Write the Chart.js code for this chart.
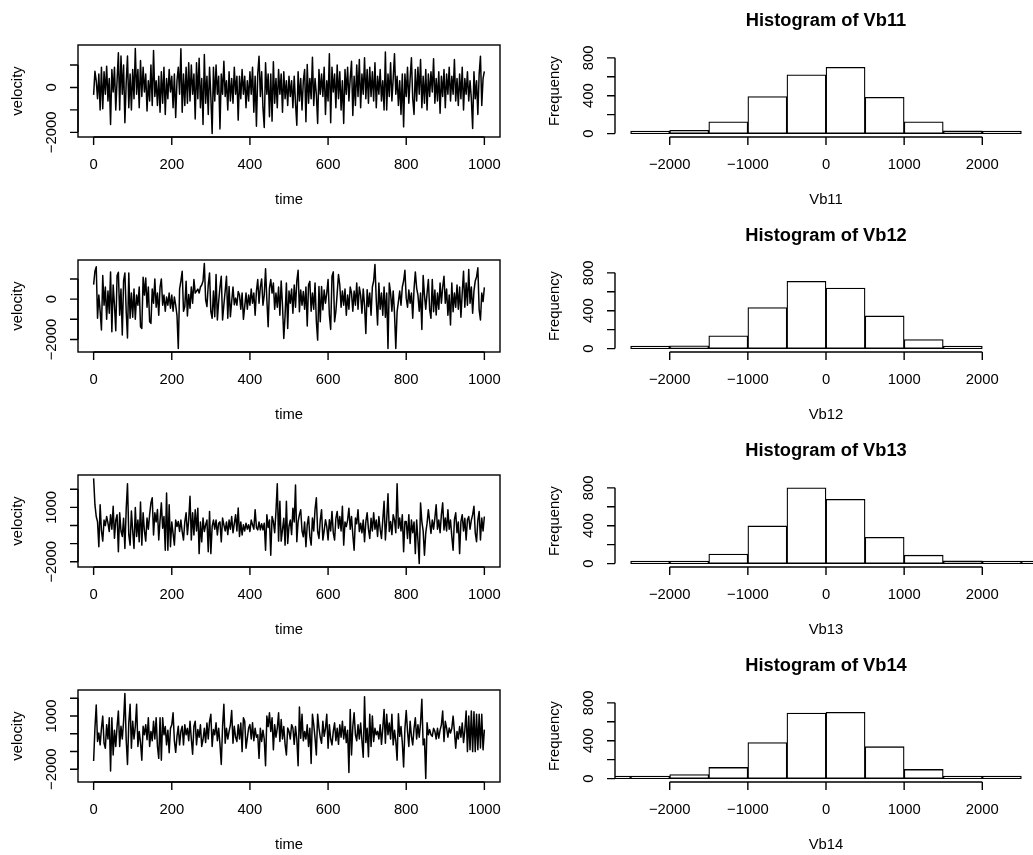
<!DOCTYPE html>
<html>
<head>
<meta charset="utf-8">
<title>Velocity series and histograms</title>
<script src="https://cdn.jsdelivr.net/npm/chart.js@4.4.1/dist/chart.umd.min.js"></script>
<style>
  html, body { margin: 0; padding: 0; background: #fff; }
  #figure { position: relative; width: 1033px; height: 855px; overflow: hidden; }
  #figure canvas { position: absolute; }
</style>
</head>
<body>
<div id="figure"></div>
<script>
// velocity samples, 301 per series, time running 0..1000
const TIME_STEP = 10 / 3;

const VB11 = [
  -330, 720, 300, -500, 600, -1000, 900, -950, 700, -300, 950, -600, 400, -1650, 800, -200, 900, -1000, 300, 1545,
  -1000, 1400, -300, 1000, -1575, 200, 1400, -900, 600, -1000, 800, -500, 1740, -300, 800, -900, 1200, -400, 900, -200,
  600, -1050, 300, -600, 1000, -800, 1650, -400, 300, -800, 500, -1100, 700, -700, 900, -1200, 400, -500, 800, -200,
  500, -900, 600, -1335, 300, 900, -300, 1725, -1100, 600, -800, 900, -700, 1100, -600, 1000, -300, 600, -1400, 1100,
  -500, 1300, -900, 400, -1650, 1470, -700, 500, -1200, 900, -400, -2055, 900, -600, 1000, -300, 500, -1845, 600, -300,
  1170, -400, 300, -1000, 700, -600, 400, -700, 900, -300, 500, -1455, 500, -500, 800, -300, 500, -900, 300, -600,
  700, -300, 900, -1100, 500, -1725, 600, 1395, -400, 700, -900, -1785, 1100, -300, 600, -1300, 600, -1500, 1150, -700,
  400, -900, 800, -300, 600, -1100, 700, -500, 300, -800, 500, -400, 300, -900, 500, -700, -1680, 700, -600, 400,
  -1000, 300, 800, -1530, 1020, -700, 400, -500, 1350, -800, 400, -300, -1600, 800, -300, 600, -400, 900, -1200, 300,
  -600, 1500, -1570, 900, -200, 600, -900, 1000, -500, 700, -1000, 300, -1600, 800, -300, 900, -600, 400, 1170, -1250,
  500, -800, 1000, -400, 1250, -900, 600, -300, 1320, -500, 800, -700, 900, -400, 700, -600, 1100, -900, 500, -300,
  800, -600, 300, -1000, 1575, -1000, 600, -400, 1100, -600, 400, 1500, -300, 500, -800, 300, -1200, 600, -1755, 600,
  -400, 900, -700, 400, 1320, -500, -1200, 800, -600, 900, -300, 1250, -900, 500, -700, 800, -1000, 600, -400, 700,
  -200, 1280, -700, 400, -600, 700, -1150, 500, -400, 800, -900, 600, -300, 900, -600, 500, -300, 1250, -600, 400,
  -800, 600, -500, 900, -1000, 400, -300, 700, -600, 300, -500, -1830, 700, -500, 300, -1200, 600, 1395, -800, 400,
  720
];

const VB12 = [
  720, 1380, 1600, -950, 200, -600, -1530, 1170, -300, 600, -1000, 400, -700, 1350, -1620, 700, -300, -1570, 1170, 1330,
  -800, 500, -1780, 900, 1300, -600, -1920, 1300, -950, 300, -900, 500, -1000, 200, -300, 600, -1370, -1450, 1080, 200,
  1050, -400, 600, -1120, -1200, 500, -200, 1000, -400, 300, -800, 600, 1000, -300, 200, -600, 100, -300, 300, -450,
  200, -600, 100, -300, -800, -2450, 500, 900, 1380, -600, -370, 880, -830, 230, -450, 600, -200, 970, 300, 400,
  500, 300, 600, 700, 900, 1770, -30, -370, 700, 1300, -620, -950, 400, -870, 1220, -1030, -120, 600, 1130, -1030,
  -280, 400, 1130, -950, 630, -870, -120, 600, -280, 50, -300, 380, 200, -500, 300, -1000, -370, 300, -500, 200,
  -300, 500, -200, 300, -800, 400, 970, -200, 600, 1000, -300, 200, 1500, -30, -1370, 550, 970, 300, 800, -500,
  300, -400, 600, -800, 900, -300, -1950, -800, 800, -1450, 400, -200, 500, -700, 700, -400, 900, 1430, -620, 450,
  -300, 380, -500, 600, -1330, 700, 880, -600, 300, -500, 800, -1100, -2030, 630, -1120, 630, -530, 450, -200, 300,
  970, -800, -1500, 1130, 1350, -1120, -600, 300, 1220, 700, -400, 400, -300, 500, -800, 200, -500, 600, 300, -600,
  400, -300, 800, -500, 600, 200, -700, 500, -300, -1700, 470, -370, 300, -800, 600, 900, 1720, -30, -1280, 800,
  -500, 300, -800, 600, -900, 300, -2450, 800, 300, -600, 400, -700, -2450, -620, -120, 400, -300, 600, 900, 1430,
  50, -400, 450, -200, 300, -950, 500, 1350, 550, 200, -600, 300, -1500, 1170, 200, -500, 300, 970, -530, -950,
  970, -620, 450, -780, 300, -500, 800, -200, 600, 1130, -200, 500, -800, 200, -1280, 800, -620, 300, -400, 700,
  -500, 600, -900, 300, 1380, -400, 800, -300, 1470, -200, 600, -700, 400, 900, 1100, 1550, -530, -1030, 300, -120,
  580
];

const VB13 = [
  2600, 1150, 500, 200, -1170, 1150, -300, -860, 300, 0, 500, 130, -330, 600, -200, 1060, -700, 300, 600, -1450,
  700, -300, -600, 400, -1270, 900, 2310, -520, -1080, 800, -300, -1270, 1000, -600, 300, -900, 1300, -1080, 700, -300,
  -860, 410, -200, 600, 1250, 1530, -520, 700, 200, 880, -800, 300, 1250, -150, 500, -1360, 1800, -1360, 1150, -1170,
  200, -430, -1080, 300, -50, 220, -330, 300, -330, -800, 200, 700, -500, 300, 1620, -800, 700, -520, 875, -300,
  960, -1550, 200, -900, 410, -330, 40, 300, -1450, 780, -1550, -50, 300, -200, 300, -520, 130, 200, -900, 410,
  40, -300, 200, -500, 300, -200, 500, -400, 100, 600, -300, 970, -600, 200, -520, 40, -300, 130, -200, 40,
  -330, 300, 40, -200, 875, -110, -240, 200, -240, 100, -240, 130, -1360, 600, -110, 300, -1640, 500, 220, -400,
  800, 2310, -860, 1340, -860, -240, 400, -1080, 1340, -990, -40, 300, -500, 960, 200, 2230, -890, 220, 600, 875,
  -300, -620, 200, -1170, 40, 500, -600, -1080, 410, -300, 900, 1530, -330, -710, 300, 875, -800, -300, 320, -60,
  -800, 320, -300, 780, -400, -800, 400, 780, -150, 500, -300, 1060, -1080, 200, -60, 300, 960, -200, 500, -500,
  -1360, 410, 100, 875, -330, 130, -400, 300, -890, 220, 700, -200, -710, 400, -300, 700, -200, 300, -600, 500,
  -200, -710, 300, 1340, -800, 300, 1750, -330, 220, -500, 600, 300, -400, 2310, -150, 410, -300, 600, -1450, 220,
  220, -710, 600, -990, 300, -400, 200, -1550, 300, -800, -2100, 1250, 220, -300, -1640, -400, 130, 875, 220, -430,
  300, -200, 410, 1150, -200, 300, -400, 600, 1250, -240, 410, -300, 875, -200, 300, -600, -1360, 320, 700, -400,
  200, -1550, 220, 600, -300, 400, -800, 320, 500, -200, 300, 600, 1060, -400, -890, 300, 780, -800, 410, -300,
  500
];

const VB14 = [
  -1540, 300, 1620, -440, 40, -630, 300, 990, -540, -820, 510, -300, 900, -2100, 900, -1200, 200, -720, 400, 1280,
  -720, 420, -300, 700, 2270, -340, -1730, 600, 1660, -820, 700, -300, 400, 1660, -720, 130, -500, -1490, 420, -60,
  510, -340, 900, -720, 130, -400, 700, -300, 900, -720, -1390, 900, -1490, 900, -60, 400, -630, 200, -1070, 300,
  500, 1180, -400, -1050, -150, 420, -630, 130, 420, -630, 510, -60, 300, -400, 700, -300, -1160, 420, 700, -630,
  230, -200, 500, -720, -340, 300, -500, 600, -300, 700, 1090, -720, 230, -60, 610, -400, 300, -600, -1730, 400,
  1660, -540, 300, -300, 130, 500, 1310, -540, 420, -200, -440, 510, -300, 600, -1010, 900, 700, -820, -250, 320,
  510, -300, 610, -400, 300, -200, -60, -1390, 300, -440, 200, -300, -1810, 990, 400, 1180, 130, 900, -910, 510,
  -200, 300, 1180, -440, 800, -300, 400, -600, -1200, 320, 130, -300, 510, 320, -600, 400, -300, -1810, 1500, -250,
  1090, -400, 130, -300, 500, -720, 300, -1680, 1090, 510, -250, -1200, 1090, 320, -200, -540, 700, -150, 300, 1090,
  -820, 510, -300, -630, 130, 610, -400, 300, -600, 500, -200, 700, -300, 400, -500, 200, -2190, 1370, -1200, 420,
  1180, -60, -400, 500, -300, 600, -400, -1330, 2080, -500, 300, -1300, 1090, -720, 990, -440, 300, -60, 130, -300,
  500, -600, 300, 1370, -540, 1090, -60, 600, -300, 1090, -630, 200, -400, -1490, 1120, -150, 400, -500, -1870, 300,
  1310, 130, -720, 700, -150, -630, 300, 900, -300, 500, -200, 600, 1940, -630, -300, -2530, 610, -60, 230, -60,
  -150, 300, 130, -300, 300, -250, 200, 500, 1280, -440, 700, 320, -200, 320, 40, 300, 990, 130, -820, 130,
  -300, 400, -200, 600, -500, 200, 1280, -1010, 990, -910, 1280, -1010, 1240, -1010, 1090, -910, 1100, -800, 1090, -910,
  230
];

// histogram breaks (500 wide) and the counts of each bin; null = no bin drawn
const BREAKS = [-3000, -2500, -2000, -1500, -1000, -500, 0, 500, 1000, 1500, 2000, 2500, 3000];
const VB11_COUNTS = [null, 3, 35, 124, 391, 622, 700, 384, 124, 28, 3, null];
const VB12_COUNTS = [null, 5, 30, 135, 434, 711, 640, 345, 96, 15, null, null];
const VB13_COUNTS = [null, 4, 20, 100, 398, 800, 679, 277, 89, 28, 8, 2];
const VB14_COUNTS = [2, 10, 43, 118, 380, 692, 700, 337, 97, 14, 4, null];

// axis ticks and the labels that are printed ('' = tick only)
const TIME_TICKS = [0, 200, 400, 600, 800, 1000];
const VEL_TICKS_A = [-2000, -1000, 0, 1000];
const VEL_LABELS_A = ['-2000', '', '0', ''];
const VEL_TICKS_B = [-2000, -1000, 0, 1000, 2000];
const VEL_LABELS_B = ['-2000', '', '', '1000', ''];
const HIST_TICKS = [-2000, -1000, 0, 1000, 2000];
const FREQ_TICKS = [0, 200, 400, 600, 800];
const FREQ_LABELS = ['0', '', '400', '', '800'];
const HIST_XLIM = [-2500, 2500];
const FREQ_YLIM = [0, 900];

const ROWS = [
  { name: 'Vb11', series: VB11, counts: VB11_COUNTS, yTicks: VEL_TICKS_A, yLabels: VEL_LABELS_A },
  { name: 'Vb12', series: VB12, counts: VB12_COUNTS, yTicks: VEL_TICKS_A, yLabels: VEL_LABELS_A },
  { name: 'Vb13', series: VB13, counts: VB13_COUNTS, yTicks: VEL_TICKS_B, yLabels: VEL_LABELS_B },
  { name: 'Vb14', series: VB14, counts: VB14_COUNTS, yTicks: VEL_TICKS_B, yLabels: VEL_LABELS_B }
];

// ---- layout / style ----
const INK = '#000';
const FONT_FAMILY = '"Liberation Sans", Arial, Helvetica, sans-serif';
const TICK_FONT = '14.8px ' + FONT_FAMILY;
const TITLE_FONT = 'bold 18.3px ' + FONT_FAMILY;
const PANEL_W = 537, PANEL_H = 215;
const PAD = { left: 78, right: 37, top: 45, bottom: 78 };
const ROW_TOP = [0, 215, 430, 645];
const TICK_LEN = 8;

const fig = document.getElementById('figure');

// R-style range padding: 4% on each side
function extend(lo, hi) {
  const d = (hi - lo) * 0.04;
  return [lo - d, hi + d];
}

function fmt(s) {
  return String(s).replace('-', '\u2212');
}

function makeCanvas(left, top) {
  const c = document.createElement('canvas');
  c.width = PANEL_W;
  c.height = PANEL_H;
  c.style.left = left + 'px';
  c.style.top = top + 'px';
  fig.appendChild(c);
  return c;
}

// axes drawn the way base R does: line only between outer ticks, ticks outside
function rAxes(spec) {
  return {
    id: 'rAxes',
    afterDraw(chart) {
      const { ctx, chartArea: a } = chart;
      const xs = chart.scales.x, ys = chart.scales.y;
      ctx.save();
      ctx.strokeStyle = INK;
      ctx.fillStyle = INK;
      ctx.lineWidth = 1.4;
      if (spec.box) ctx.strokeRect(a.left, a.top, a.right - a.left, a.bottom - a.top);

      const px = spec.xTicks.map(v => xs.getPixelForValue(v));
      ctx.beginPath();
      ctx.moveTo(px[0], a.bottom);
      ctx.lineTo(px[px.length - 1], a.bottom);
      px.forEach(p => { ctx.moveTo(p, a.bottom); ctx.lineTo(p, a.bottom + TICK_LEN); });
      ctx.stroke();

      ctx.font = TICK_FONT;
      ctx.textAlign = 'center';
      ctx.textBaseline = 'middle';
      spec.xTicks.forEach((v, i) => ctx.fillText(fmt(v), px[i], a.bottom + 27.5));
      ctx.fillText(spec.xTitle, (a.left + a.right) / 2, a.bottom + 63);

      const py = spec.yTicks.map(v => ys.getPixelForValue(v));
      ctx.beginPath();
      ctx.moveTo(a.left, py[0]);
      ctx.lineTo(a.left, py[py.length - 1]);
      py.forEach(p => { ctx.moveTo(a.left, p); ctx.lineTo(a.left - TICK_LEN, p); });
      ctx.stroke();

      spec.yLabels.forEach((t, i) => {
        if (!t) return;
        ctx.save();
        ctx.translate(a.left - 26.5, py[i]);
        ctx.rotate(-Math.PI / 2);
        ctx.fillText(fmt(t), 0, 0);
        ctx.restore();
      });
      ctx.save();
      ctx.translate(a.left - 60, (a.top + a.bottom) / 2);
      ctx.rotate(-Math.PI / 2);
      ctx.fillText(spec.yTitle, 0, 0);
      ctx.restore();

      if (spec.title) {
        ctx.font = TITLE_FONT;
        ctx.fillText(spec.title, (a.left + a.right) / 2, a.top - 24);
      }
      ctx.restore();
    }
  };
}

const baseOptions = {
  responsive: false,
  animation: false,
  events: [],
  layout: { padding: PAD },
  plugins: { legend: { display: false }, tooltip: { enabled: false } }
};

ROWS.forEach((row, r) => {
  // time series
  const pts = row.series.map((v, i) => ({ x: i * TIME_STEP, y: v }));
  const tx = extend(0, (row.series.length - 1) * TIME_STEP);
  const vy = extend(Math.min(...row.series), Math.max(...row.series));
  new Chart(makeCanvas(0, ROW_TOP[r]), {
    type: 'line',
    data: {
      datasets: [{
        data: pts,
        borderColor: INK,
        borderWidth: 1.5,
        borderJoinStyle: 'round',
        pointRadius: 0,
        tension: 0,
        fill: false
      }]
    },
    options: Object.assign({}, baseOptions, {
      scales: {
        x: { type: 'linear', display: false, min: tx[0], max: tx[1] },
        y: { type: 'linear', display: false, min: vy[0], max: vy[1] }
      }
    }),
    plugins: [rAxes({
      box: true,
      xTicks: TIME_TICKS, xTitle: 'time',
      yTicks: row.yTicks, yLabels: row.yLabels, yTitle: 'velocity'
    })]
  });

  // histogram
  const bars = row.counts.map((c, i) => ({ x: (BREAKS[i] + BREAKS[i + 1]) / 2, y: c }));
  const hx = extend(HIST_XLIM[0], HIST_XLIM[1]);
  const hy = extend(FREQ_YLIM[0], FREQ_YLIM[1]);
  new Chart(makeCanvas(PANEL_W, ROW_TOP[r]), {
    type: 'bar',
    data: {
      datasets: [{
        data: bars,
        backgroundColor: '#fff',
        borderColor: INK,
        borderWidth: 1.3,
        borderSkipped: false,
        minBarLength: 2.5,
        barPercentage: 1,
        categoryPercentage: 1,
        clip: 0
      }]
    },
    options: Object.assign({}, baseOptions, {
      scales: {
        x: { type: 'linear', display: false, offset: false, min: hx[0], max: hx[1] },
        y: { type: 'linear', display: false, min: hy[0], max: hy[1] }
      }
    }),
    plugins: [rAxes({
      box: false,
      title: 'Histogram of ' + row.name,
      xTicks: HIST_TICKS, xTitle: row.name,
      yTicks: FREQ_TICKS, yLabels: FREQ_LABELS, yTitle: 'Frequency'
    })]
  });
});
</script>
</body>
</html>
